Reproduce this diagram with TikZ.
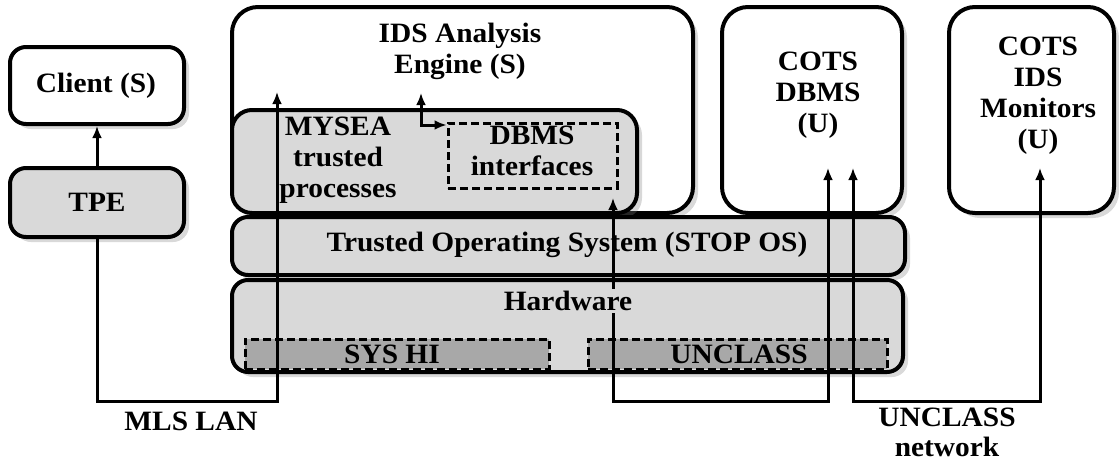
\documentclass[tikz,border=0pt]{standalone}
\usepackage{fontspec}
\setmainfont{Liberation Serif}[FakeStretch=1.05]
\usetikzlibrary{arrows.meta,shadows}
\definecolor{lgray}{HTML}{D9D9D9}
\definecolor{dgray}{HTML}{A8A8A8}
\begin{document}
\begin{tikzpicture}[x=1pt,y=-1pt,
  box/.style={draw, line width=4pt, rounded corners=16pt, fill=white, inner sep=0pt,
    drop shadow={shadow xshift=5pt, shadow yshift=-5pt, opacity=0.3}},
  gbox/.style={box, fill=lgray},
  dbox/.style={draw, line width=3pt, dash pattern=on 8pt off 4pt, inner sep=0pt},
  lbl/.style={font=\fontsize{28}{31}\selectfont\bfseries, align=center, inner sep=0pt},
  conn/.style={line width=3pt},
  arr/.style={conn, -{Latex[length=12pt,width=10pt]}},
  darr/.style={conn, {Latex[length=12pt,width=10pt]}-{Latex[length=12pt,width=10pt]}}
]
\useasboundingbox (0,0) rectangle (1119,461);

% boxes
\node[box, minimum width=174pt, minimum height=77pt] (client) at (97,85.5) {};
\node[gbox, minimum width=174pt, minimum height=69pt] (tpe) at (97,202.5) {};
\node[box, rounded corners=26pt, minimum width=461pt, minimum height=206pt] (ide) at (462.5,110) {};
\node[gbox, rounded corners=20pt, minimum width=405pt, minimum height=103pt] (mysea) at (434.5,161.5) {};
\node[dbox, minimum width=169pt, minimum height=65pt] (dbmsif) at (532.5,155.5) {};
\node[box, rounded corners=26pt, minimum width=180pt, minimum height=206pt] (cotsdb) at (812,110) {};
\node[box, rounded corners=26pt, minimum width=165pt, minimum height=206pt] (cotsids) at (1031.5,110) {};
\node[gbox, minimum width=673pt, minimum height=58pt] (tos) at (568.5,246) {};
\node[gbox, minimum width=671pt, minimum height=92pt] (hw) at (567.5,326) {};
\node[dbox, fill=dgray, minimum width=304pt, minimum height=30pt] (syshi) at (397,354) {};
\node[dbox, fill=dgray, minimum width=299pt, minimum height=30pt] (unclass) at (737.5,354) {};

% labels
\node[lbl] (tclient) at (96,86) {Client (S)};
\node[lbl] (ttpe) at (97,202) {TPE};
\node[lbl] (tide) at (460,51) {IDS Analysis\\Engine (S)};
\node[lbl] (tmysea) at (338,160) {MYSEA\\trusted\\processes};
\node[lbl] (tdbmsif) at (532,151) {DBMS\\interfaces};
\node[lbl] (tcotsdb) at (818,95) {COTS\\DBMS\\(U)};
\node[lbl] (tcotsids) at (1038,96) {COTS\\IDS\\Monitors\\(U)};
\node[lbl] (ttos) at (567,245) {Trusted Operating System (STOP OS)};
\node[lbl] (tsyshi) at (392,354) {SYS HI};
\node[lbl] (tunclass) at (739,354) {UNCLASS};
\node[lbl] (tmls) at (191,421) {MLS LAN};
\node[lbl, font=\fontsize{28}{30}\selectfont\bfseries] (tunet) at (947,432) {UNCLASS\\network};

% connectors
\coordinate (lanR) at (277,401);
\coordinate (ideIn) at (277,92);
\coordinate (ideUp) at (421,93);
\coordinate (elb) at (421,125);
\coordinate (ifIn) at (613,198);
\coordinate (dbIn1) at (828,168);
\coordinate (dbIn2) at (853,168);
\coordinate (monIn) at (1040,168);

\draw[arr] (tpe.north) -- (client.south);
\draw[arr] (tpe.south) |- (lanR) -- (ideIn);
\draw[darr] (ideUp) -- (elb) -- (dbmsif.west |- elb);
\draw[darr] (ifIn) -- (ifIn |- lanR) -| (dbIn1);
\draw[darr] (dbIn2) -- (dbIn2 |- lanR) -| (monIn);

\node[lbl, fill=lgray, inner sep=2pt] (thw) at (568,301) {Hardware};
\end{tikzpicture}
\end{document}
